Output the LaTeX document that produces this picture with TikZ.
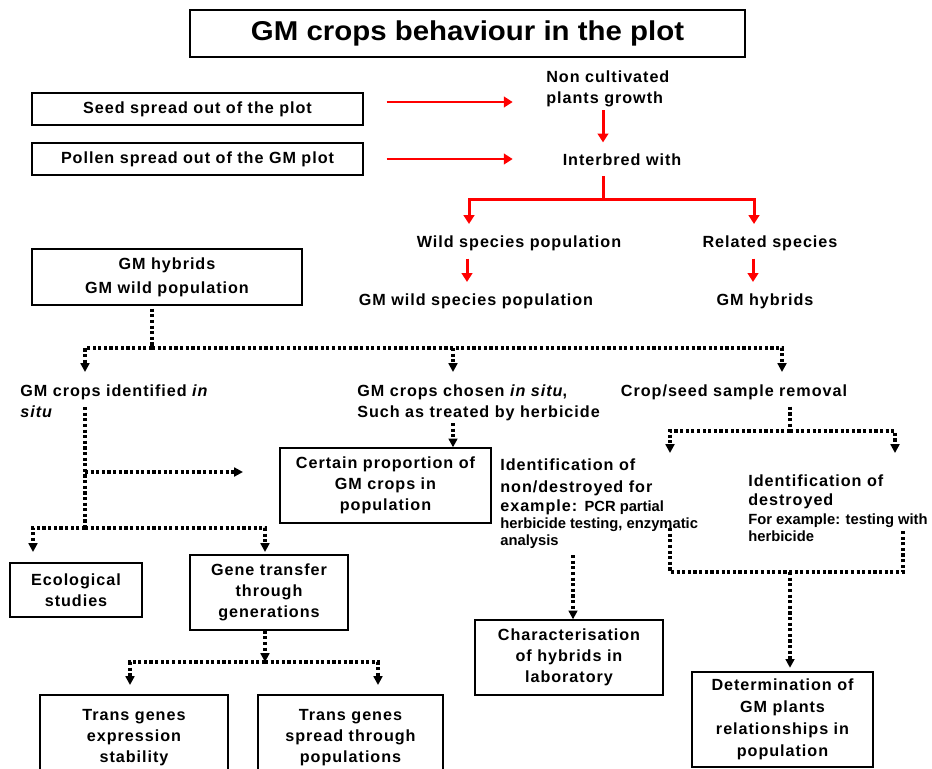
\documentclass[tikz,border=0pt]{standalone}
\usepackage{fontspec}
\setmainfont{Liberation Sans}
\newfontfamily\spacedfont{Liberation Sans}[LetterSpace=6]
\newfontfamily\widefont{Liberation Sans}[FakeStretch=1.08]
\usetikzlibrary{arrows.meta}

\newcommand{\bigtxt}{\spacedfont\bfseries\fontsize{9.2}{12}\selectfont}
\newcommand{\smalltxt}{\normalfont\bfseries\fontsize{8.4}{9.6}\selectfont}

\begin{document}
\begin{tikzpicture}[x=0.02cm,y=-0.02cm,
	box/.style={draw,line width=0.8pt,align=center,inner sep=2pt,font=\bigtxt},
	txt/.style={inner sep=0pt,align=left,font=\bigtxt},
	redline/.style={draw=red,line width=1.7pt},
	redarr/.style={redline,-{Triangle[length=5pt,width=6pt]}},
	dotline/.style={line width=1.8pt,dash pattern=on 1.8pt off 1.4pt},
	dotarr/.style={dotline,-{Triangle[length=5pt,width=5pt]}}]
	\useasboundingbox (0,0) rectangle (932,768);
	\fill[white] (0,0) rectangle (932,768);
	\clip (0,0) rectangle (932,768);
	%
	\node[box,minimum width=11.1cm,minimum height=0.94cm,
		font=\widefont\bfseries\fontsize{15.5}{18}\selectfont] (title) at (467.5,33.5) {GM crops behaviour in the plot};
	\node[box,minimum width=6.62cm,minimum height=0.64cm] (seed) at (197.5,109) {Seed spread out of the plot};
	\node[box,minimum width=6.62cm,minimum height=0.64cm] (pollen) at (197.5,159) {Pollen spread out of the GM plot};
	\node[txt,anchor=north west] (noncult) at (546,70) {Non cultivated\\plants growth};
	\node[txt,anchor=base] (interbred) at (622,165) {Interbred with};
	\node[txt,anchor=base] (wild) at (519,247) {Wild species population};
	\node[txt,anchor=base] (related) at (770,247) {Related species};
	\node[txt,anchor=base] (gmwild) at (476,305) {GM wild species population};
	\node[txt,anchor=base] (gmhyb) at (765,305) {GM hybrids};
	%
	\node[box,minimum width=5.4cm,minimum height=1.12cm] (hybrids) at (167,277) {GM hybrids\\[1.5pt]GM wild population};
	\node[txt,anchor=north west] (identified) at (20,384) {GM crops identified \textit{in}\\\textit{situ}};
	\node[txt,anchor=north west] (chosen) at (357,384) {GM crops chosen \textit{in situ},\\Such as treated by herbicide};
	\node[txt,anchor=base] (removal) at (734,396) {Crop/seed sample removal};
	\node[box,minimum width=4.22cm,minimum height=1.5cm] (certain) at (385.5,485.5) {Certain proportion of\\GM crops in\\population};
	\node[txt,anchor=north west] (idnon) at (500,458) {Identification of\\[0.5pt]non/destroyed for\\[-0.7pt]example: {\smalltxt PCR partial}\\[-2.4pt]{\smalltxt herbicide testing, enzymatic}\\[-2.4pt]{\smalltxt analysis}};
	\node[txt,anchor=north west] (iddest) at (748,474) {Identification of\\[-0.7pt]destroyed\\[-1.5pt]{\smalltxt For example: testing with}\\[-2.4pt]{\smalltxt herbicide}};
	\node[box,minimum width=3.76cm,minimum height=1.5cm] (charact) at (569,657.5) {Characterisation\\of hybrids in\\laboratory};
	\node[box,minimum width=3.62cm,minimum height=1.9cm] (determ) at (782.5,719.5) {Determination of\\[0.5pt]GM plants\\[0.5pt]relationships in\\[0.5pt]population};
	\node[box,minimum width=2.64cm,minimum height=1.08cm] (ecol) at (76,590) {Ecological\\studies};
	\node[box,minimum width=3.16cm,minimum height=1.5cm] (gene) at (269,592.5) {Gene transfer\\through\\generations};
	\node[box,minimum width=3.76cm,minimum height=1.7cm] (stab) at (134,737.5) {Trans genes\\expression\\stability};
	\node[box,minimum width=3.7cm,minimum height=1.7cm] (spread) at (350.5,737.5) {Trans genes\\spread through\\populations};
	%
	\coordinate (rsplit) at (603,199);
	\coordinate (rwild) at (469,224);
	\coordinate (rrel) at (754,224);
	\coordinate (dsplit) at (152,348);
	\coordinate (da) at (85,372);
	\coordinate (db) at (453,372);
	\coordinate (dc) at (782,372);
	\coordinate (isplit) at (85,528);
	\coordinate (ea) at (33,552);
	\coordinate (eb) at (265,552);
	\coordinate (gsplit) at (265,662);
	\coordinate (sa) at (130,685);
	\coordinate (sb) at (378,685);
	\coordinate (ca) at (573,555);
	\coordinate (rmsplit) at (790,431);
	\coordinate (ra) at (670,453);
	\coordinate (rb) at (895,453);
	\coordinate (bl) at (670,528);
	\coordinate (br) at (903,530);
	\coordinate (bsplit) at (790,572);
	%
	% red arrows
	\draw[redarr] ([shift={(23,-7)}]seed.east) -- ++(126,0);
	\draw[redarr] ([shift={(23,0)}]pollen.east) -- ++(126,0);
	\draw[redarr,shorten <=2pt,shorten >=6pt] (noncult.south -| rsplit) -- (interbred.north -| rsplit);
	\draw[redline,shorten <=6pt] (interbred.south -| rsplit) -- (rsplit);
	\draw[redarr] (rsplit) -| (rwild);
	\draw[redarr] (rsplit) -| (rrel);
	\draw[redarr] ([shift={(-52,8)}]wild.south) -- ([shift={(-9,-11)}]gmwild.north);
	\draw[redarr] ([shift={(-17,8)}]related.south) -- ([shift={(-12,-11)}]gmhyb.north);
	%
	% dotted arrows
	\draw[dotline] ([shift={(-15,3)}]hybrids.south) -- (dsplit);
	\draw[dotarr] (dsplit) -| (da);
	\draw[dotarr] (dsplit) -| (dc);
	\draw[dotarr] (db |- dsplit) -- (db);
	\draw[dotline] ([shift={(65,23)}]identified.north west) -- (isplit);
	\draw[dotarr] ([shift={(65,88)}]identified.north west) -- ++(158,0);
	\draw[dotarr] (isplit) -| (ea);
	\draw[dotarr] (isplit) -| (eb);
	\draw[dotarr] ([shift={(96,39)}]chosen.north west) -- (certain.north -| db);
	\draw[dotarr] (gene.south -| gsplit) -- (gsplit);
	\draw[dotarr] (gsplit) -| (sa);
	\draw[dotarr] (gsplit) -| (sb);
	\draw[dotarr] (ca) -- (charact.north -| ca);
	\draw[dotline,shorten <=4pt] (removal.south -| rmsplit) -- (rmsplit);
	\draw[dotarr] (rmsplit) -| (ra);
	\draw[dotarr] (rmsplit) -| (rb);
	\draw[dotline] (bl) |- (bsplit) -| (br);
	\draw[dotarr,shorten >=2pt] (bsplit) -- (determ.north -| bsplit);
\end{tikzpicture}
\end{document}
